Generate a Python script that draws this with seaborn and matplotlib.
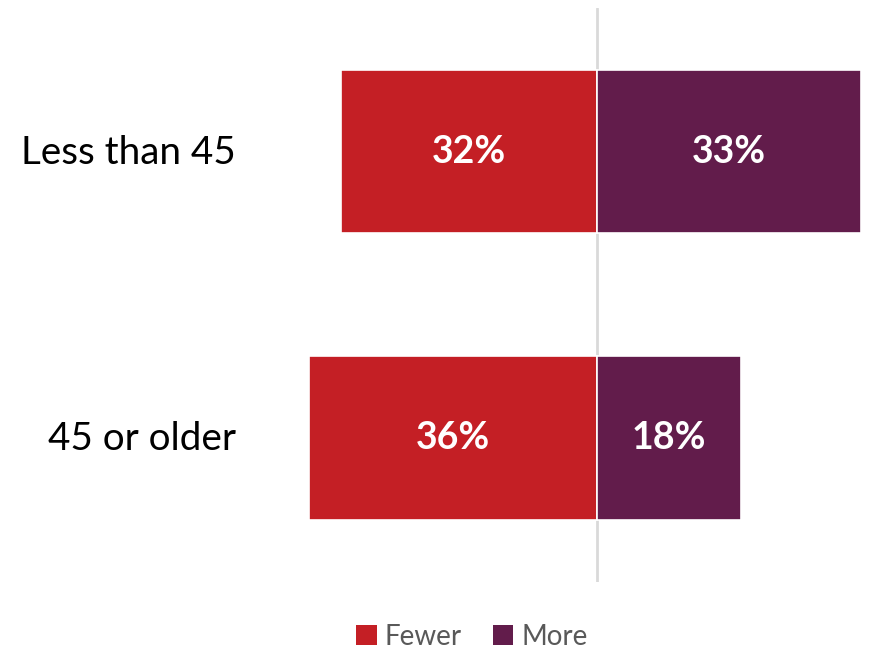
import matplotlib
matplotlib.use("Agg")
import matplotlib.pyplot as plt
from matplotlib.patches import Patch
import seaborn as sns
import pandas as pd

groups = ["Less than 45", "45 or older"]
fewer = [32, 36]
more = [33, 18]
series = ["Fewer", "More"]
colors = {"Fewer": "#C41F25", "More": "#621C4B"}

sns.set_theme(style="white")
plt.rcParams["font.family"] = ["Lato", "DejaVu Sans"]

rows = []
for g, f, m in zip(groups, fewer, more):
    rows.append({"group": g, "series": "Fewer", "value": -f, "label": f})
    rows.append({"group": g, "series": "More", "value": m, "label": m})
df = pd.DataFrame(rows)

W, H = 869, 650
fig = plt.figure(figsize=(W / 100, H / 100), dpi=100)
ax = fig.add_axes([300 / W, 1 - 582 / H, (W - 300) / W, (582 - 8) / H])

ax.axvline(0, color="#D9D9D9", lw=2, zorder=0)
sns.barplot(data=df, x="value", y="group", hue="series", order=groups,
            hue_order=series, palette=colors, saturation=1, dodge=False,
            width=0.57, orient="h", ax=ax, legend=False, edgecolor="white",
            linewidth=1.2, zorder=2)

for cont in ax.containers:
    for bar in cont:
        w = bar.get_width()
        cx = bar.get_x() + w / 2
        cy = bar.get_y() + bar.get_height() / 2
        ax.text(cx, cy, f"{abs(w):.0f}%", ha="center", va="center",
                color="white", fontsize=27, fontweight="bold", zorder=3)

ax.set_xlim(-37.125, 34.0)
ax.set_ylim(1.5026, -0.5009)
ax.set_xlabel("")
ax.set_ylabel("")
ax.set_xticks([])
ax.set_yticks([])
for s in ax.spines.values():
    s.set_visible(False)

for i, g in enumerate(groups):
    ax.text(-37.125 - 8.0, i + 0.005, g, ha="right", va="center",
            fontsize=27.8, color="black")

handles = [Patch(facecolor=colors[s], edgecolor="none", label=s) for s in series]
fig.legend(handles=handles, loc="center", bbox_to_anchor=(472 / W, 1 - 637 / H),
           ncol=2, frameon=False, fontsize=20, handlelength=0.75,
           handleheight=0.75, handletextpad=0.3, columnspacing=1.1,
           labelcolor="#595959")

fig.savefig("out.png", dpi=100)
